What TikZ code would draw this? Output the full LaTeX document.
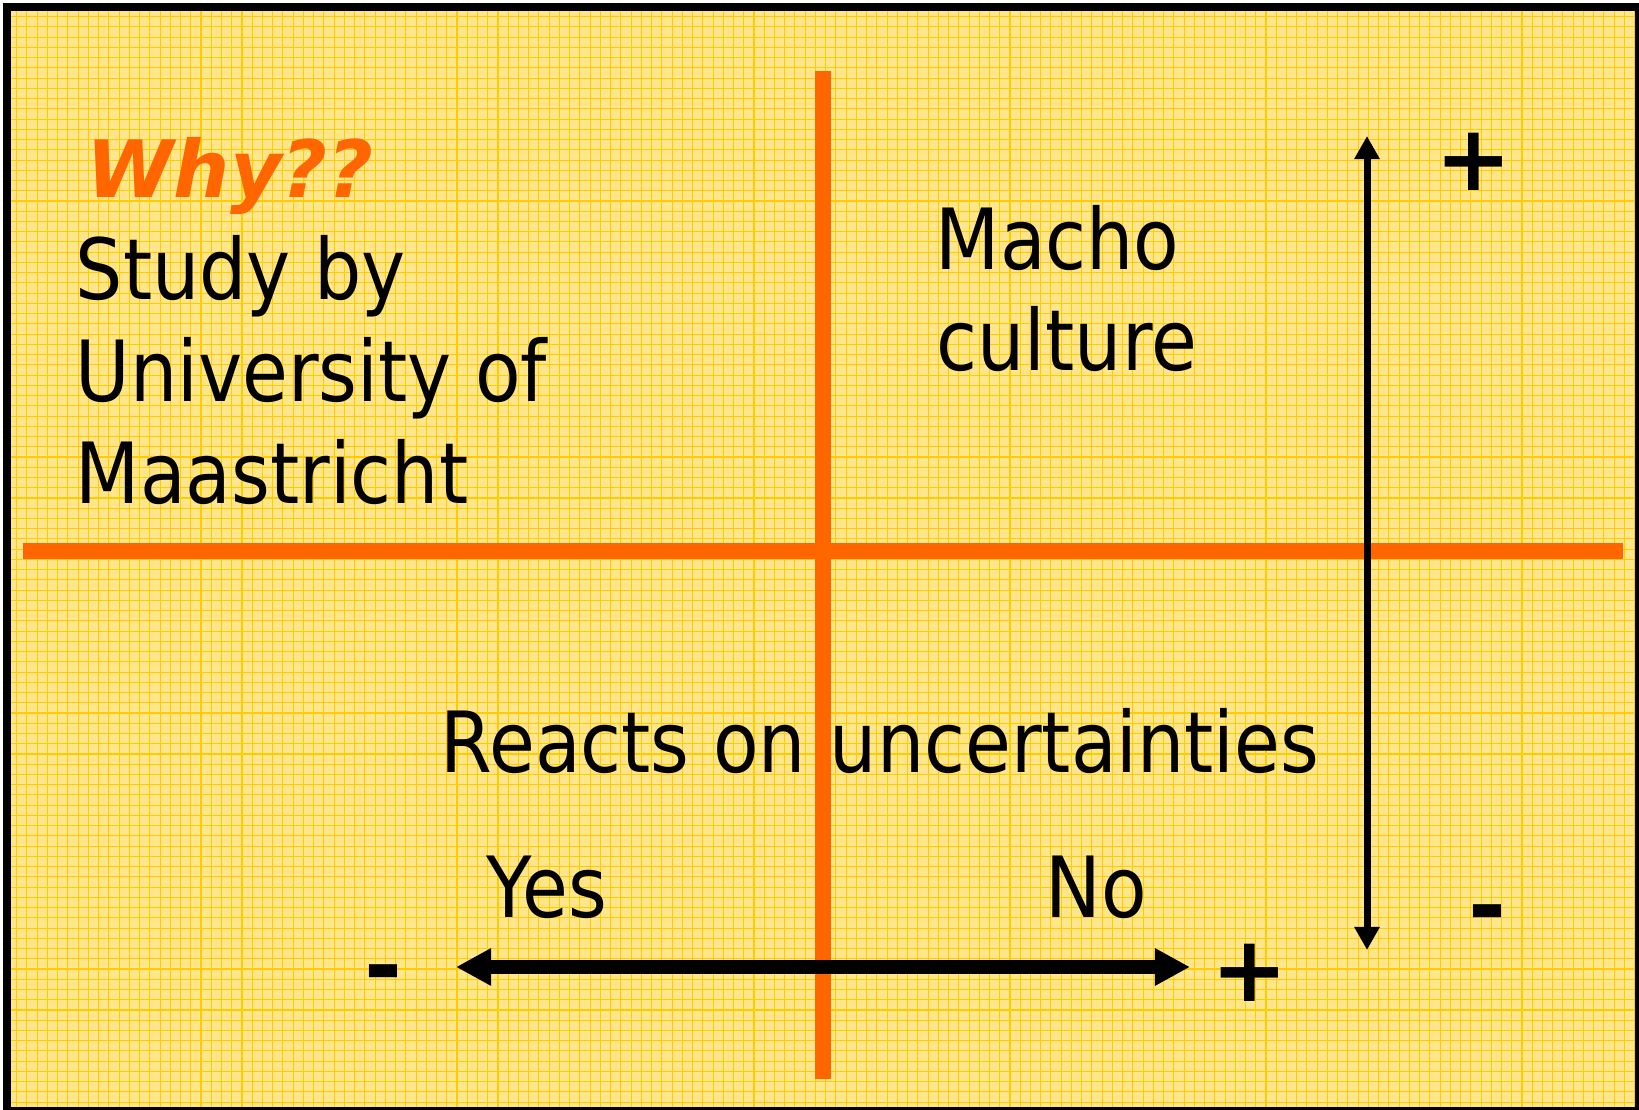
\documentclass[tikz,border=0pt]{standalone}
\usepackage{fontspec}
\setmainfont{DejaVu Sans}[FakeStretch=0.883]
\newfontfamily\signfont{DejaVu Sans}
\usetikzlibrary{arrows.meta}
\definecolor{slidebg}{RGB}{255,230,140}
\definecolor{slidegrid}{RGB}{255,204,0}
\definecolor{axisorange}{RGB}{255,102,0}

\begin{document}
\begin{tikzpicture}[x=0.01cm,y=-0.01cm,
  slidetext/.style={anchor=base west,inner sep=0pt,font=\fontsize{24}{29}\selectfont},
  sign/.style={inner sep=0pt,font=\signfont\bfseries\fontsize{26}{30}\selectfont},
  axis/.style={line width=0.16cm,axisorange},
  thinarrow/.style={{Triangle[length=0.23cm,width=0.24cm]}-{Triangle[length=0.23cm,width=0.24cm]},line width=0.07cm},
  thickarrow/.style={{Triangle[length=0.35cm,width=0.35cm]}-{Triangle[length=0.35cm,width=0.35cm]},line width=0.13cm}]
\useasboundingbox (0,0) rectangle (1639,1110);
% frame and squared paper
\fill[white] (0,0) rectangle (1639,1110);
\fill[black] (3,3) rectangle (1639,1110);
\fill[slidebg] (11,11) rectangle (1635,1107);
\foreach \k in {0,...,158}
  \draw[slidegrid,line width=0.3pt] ({16.7+10.24*\k},11) -- ({16.7+10.24*\k},1107);
\foreach \k in {0,...,106}
  \draw[slidegrid,line width=0.3pt] (11,{16.7+10.24*\k}) -- (1635,{16.7+10.24*\k});
% the two axes
\draw[axis] (23,551) -- (1623,551);
\draw[axis] (823,71) -- (823,1079);
% texts
\node[slidetext] (why) at (86,198) {\signfont\bfseries\itshape\fontsize{22.5}{27}\selectfont\color{axisorange}Why??};
\node[slidetext] (study) at (75,300) {Study by};
\node[slidetext] (univ) at (75,402) {University of};
\node[slidetext] (maas) at (75,504) {Maastricht};
\node[slidetext] (macho) at (935,270) {Macho};
\node[slidetext] (culture) at (936,371) {culture};
\node[slidetext] (reacts) at (440,773) {Reacts on uncertainties};
\node[slidetext] (yes) at (486,917) {Yes};
\node[slidetext] (no) at (1045,917) {No};
% plus and minus signs
\node[sign] (topplus) at (1474,162) {+};
\node[sign] (botplus) at (1250,973) {+};
\node[sign,anchor=base] (leftminus) at (383,998) {-};
\node[sign,anchor=base] (rightminus) at (1487,938) {-};
% arrows
\coordinate (upend) at (1367,136);
\coordinate (downend) at (1367,950);
\coordinate (yesend) at (456,967);
\coordinate (noend) at (1190,967);
\draw[thinarrow] (upend) -- (downend);
\draw[thickarrow] (yesend) -- (noend);
\end{tikzpicture}
\end{document}
